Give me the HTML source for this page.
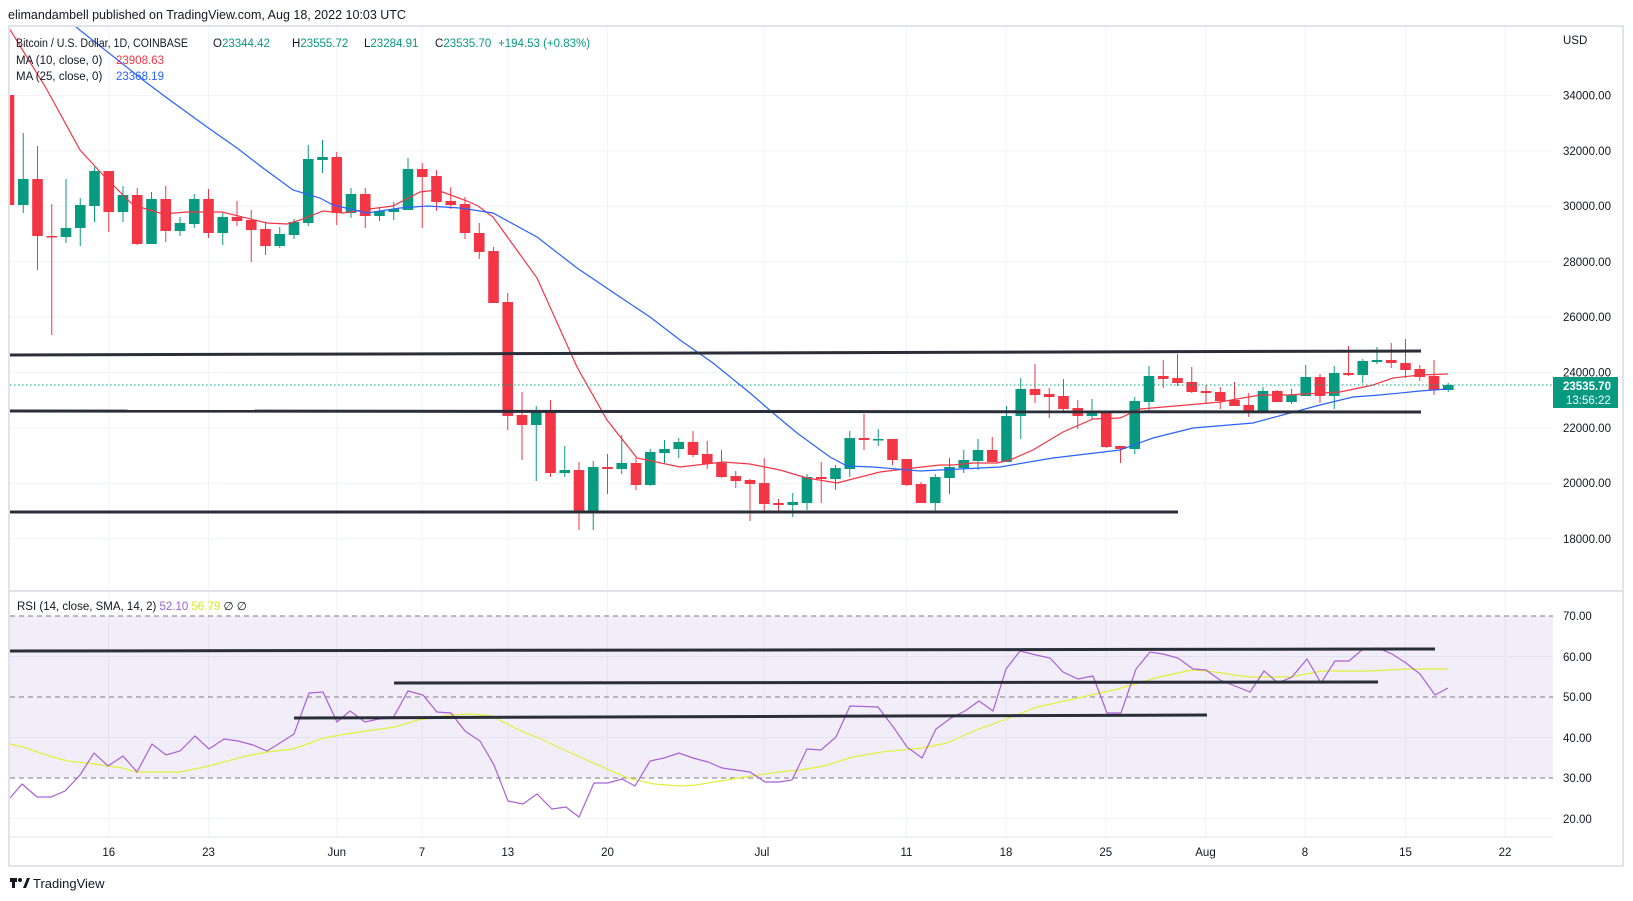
<!DOCTYPE html>
<html><head><meta charset="utf-8"><style>
html,body{margin:0;padding:0;background:#fff;width:1633px;height:901px;overflow:hidden;font-family:"Liberation Sans",sans-serif}
svg{position:absolute;left:0;top:0}
</style></head><body>
<svg id="s" width="1633" height="901" viewBox="0 0 1633 901" xmlns="http://www.w3.org/2000/svg" font-family="Liberation Sans, sans-serif">
<defs>
<clipPath id="cp"><rect x="10" y="27" width="1543" height="563"/></clipPath>
<clipPath id="cr"><rect x="10" y="593" width="1543" height="243"/></clipPath>
</defs>
<text x="8" y="19" font-size="12.5" fill="#131722">elimandambell published on TradingView.com, Aug 18, 2022 10:03 UTC</text>
<rect x="9" y="26" width="1614" height="840" fill="#fff" stroke="#e0e3eb" stroke-width="2"/>
<g id="grid" stroke="#f0f3fa" stroke-width="1"></g>
<rect x="10" y="616" width="1543" height="162" fill="#7e57c2" fill-opacity="0.1"/>
<g stroke="#787b86" stroke-width="1" stroke-dasharray="5,4">
<line x1="10" y1="616" x2="1553" y2="616"/><line x1="10" y1="697" x2="1553" y2="697"/><line x1="10" y1="778" x2="1553" y2="778"/>
</g>
<line x1="9" y1="591" x2="1623" y2="591" stroke="#e0e3eb" stroke-width="2"/>
<line x1="9" y1="837" x2="1553" y2="837" stroke="#e0e3eb" stroke-width="1"/>
<g id="cand" clip-path="url(#cp)"></g>
<g clip-path="url(#cp)" fill="none">
<polyline id="ma10" stroke="#f23645" stroke-width="1.2" points="9,28 46,88 80,150 103,175 133,205 163,214 187,212 222,212 267,223 287,224 300,220 323,211 343,213 377,208 393,206 420,192 437,190 467,201 478,206 493,217 537,278 577,367 607,420 637,458 680,467 723,462 750,464 780,470 807,478 837,483 880,472 913,468 940,465 953,465 973,463 997,463 1010,460 1033,450 1063,432 1093,419 1120,418 1140,409 1187,405 1220,402 1260,395 1287,395 1340,392 1373,385 1393,378 1420,375 1448,374"/>
<polyline stroke="#2962ff" stroke-width="1.2" points="76,27 143,80 167,98 207,127 237,148 263,168 293,190 320,198 333,205 367,213 400,208 427,206 460,208 480,211 493,213 537,237 577,268 620,297 650,317 680,340 713,363 750,393 773,413 797,433 830,457 847,466 873,467 920,471 1000,467 1053,458 1120,450 1153,438 1193,428 1253,423 1320,405 1353,397 1380,395 1420,391 1447,389"/>
<line x1="10" y1="385" x2="1553" y2="385" stroke="#089981" stroke-width="1" stroke-dasharray="1.5,2.5"/>
<g stroke="#2a2e39" stroke-width="3">
<line x1="10" y1="355" x2="1421" y2="351"/>
<line x1="10" y1="411" x2="1421" y2="412"/>
<line x1="10" y1="512" x2="1178" y2="512"/>
</g>
</g>
<g clip-path="url(#cr)" fill="none">
<polyline stroke="#e2f03c" stroke-width="1.2" points="10,744 23,747 52,757 68,761 94,764 123,768 136,772 180,772 209,766 246,756 267,752 293,749 324,738 340,735 366,731 395,727 418,720 450,715 471,714 492,716 523,732 539,738 560,748 591,762 628,778 654,784 680,786 696,785 732,779 758,775 779,772 800,770 824,766 853,757 882,752 922,748 947,743 976,730 1004,720 1037,707 1078,698 1118,689 1159,677 1192,670 1208,671 1249,677 1290,677 1322,671 1371,671 1404,669 1448,669"/>
<polyline stroke="#ab5fd6" stroke-width="1.2" points="10,798 22,784 37,797 51,797 65,791 80,775 94,753 108,766 123,756 137,772 152,744 166,755 180,751 195,736 209,749 224,739 238,741 253,745 267,751 280,743 294,734 309,693 323,692 337,722 350,711 365,722 379,719 393,718 408,691 423,695 437,712 451,713 465,731 480,741 494,765 508,801 523,804 537,794 552,809 566,807 579,817 594,783 608,783 622,779 635,786 650,761 664,758 679,753 693,758 708,762 722,768 736,770 750,772 765,782 779,782 792,780 807,749 821,750 836,737 850,706 878,707 894,728 907,747 922,758 936,729 951,718 965,711 979,701 993,711 1006,669 1020,651 1036,655 1050,658 1063,672 1078,679 1093,676 1107,713 1121,713 1136,669 1150,652 1163,654 1178,658 1193,669 1206,670 1220,680 1235,686 1250,692 1264,671 1278,683 1292,677 1307,659 1321,683 1335,661 1349,661 1363,649 1378,648 1392,654 1406,663 1420,674 1435,695 1448,688"/>
<g stroke="#2a2e39" stroke-width="3">
<line x1="10" y1="651" x2="1435" y2="649"/>
<line x1="394" y1="683" x2="1378" y2="682"/>
<line x1="294" y1="718" x2="1207" y2="715"/>
</g>
</g>
<g font-size="11.5" fill="#131722">
<text x="1563" y="44">USD</text>
<text x="1563" y="99.5">34000.00</text><text x="1563" y="155">32000.00</text><text x="1563" y="210">30000.00</text><text x="1563" y="266">28000.00</text><text x="1563" y="321">26000.00</text><text x="1563" y="376.5">24000.00</text><text x="1563" y="432">22000.00</text><text x="1563" y="487">20000.00</text><text x="1563" y="543">18000.00</text>
<text x="1563" y="620">70.00</text><text x="1563" y="661">60.00</text><text x="1563" y="701">50.00</text><text x="1563" y="742">40.00</text><text x="1563" y="782">30.00</text><text x="1563" y="823">20.00</text>
</g>
<rect x="1553" y="377" width="65" height="31" fill="#089981"/>
<text x="1563" y="390" font-size="11.5" font-weight="bold" fill="#fff">23535.70</text>
<text x="1566" y="404" font-size="11.5" fill="#fff">13:56:22</text>
<g font-size="11.5" fill="#131722" text-anchor="middle" id="dates">
<text x="108.75" y="856">16</text><text x="208.5" y="856">23</text><text x="336.75" y="856">Jun</text><text x="422" y="856">7</text><text x="507.75" y="856">13</text><text x="607.5" y="856">20</text><text x="762" y="856">Jul</text><text x="906.5" y="856">11</text><text x="1006" y="856">18</text><text x="1105.75" y="856">25</text><text x="1205.5" y="856">Aug</text><text x="1305" y="856">8</text><text x="1405.5" y="856">15</text><text x="1505" y="856">22</text>
</g>
<g font-size="11.5" fill="#131722">
<text x="16" y="47" textLength="172" lengthAdjust="spacingAndGlyphs">Bitcoin / U.S. Dollar, 1D, COINBASE</text>
<text x="213" y="47">O<tspan fill="#089981">23344.42</tspan></text>
<text x="292" y="47">H<tspan fill="#089981">23555.72</tspan></text>
<text x="364" y="47">L<tspan fill="#089981">23284.91</tspan></text>
<text x="435" y="47">C<tspan fill="#089981">23535.70</tspan></text>
<text x="498" y="47" fill="#089981">+194.53 (+0.83%)</text>
<text x="16" y="64">MA (10, close, 0)</text><text x="116" y="64" fill="#f23645">23908.63</text>
<text x="16" y="80">MA (25, close, 0)</text><text x="116" y="80" fill="#2962ff">23368.19</text>
<text x="17" y="610">RSI (14, close, SMA, 14, 2) <tspan fill="#9c5fd6">52.10</tspan> <tspan fill="#d4ea1e">56.79</tspan> ∅ ∅</text>
</g>
<g transform="translate(10,876)">
<rect x="0" y="2" width="7" height="4" fill="#131722"/><rect x="2" y="2" width="3" height="10" fill="#131722"/>
<circle cx="10" cy="4" r="2" fill="#131722"/><path d="M13 12 L17 2 L20 2 L16 12Z" fill="#131722"/>
</g>
<text x="33" y="888" font-size="13" fill="#131722">TradingView</text>
</svg>
<script>
var d=[
['r',95,205,95,205],['g',205,179,133,213],['r',179,236,146,270],['r',236,237,204,335],['g',237,228,179,243],['g',228,205,198,246],['g',206,171,167,222],['r',171,212,171,232],['g',212,195,186,222],['r',195,244,188,245],
['g',244,199,192,244],['r',199,231,186,242],['g',231,223,217,236],['g',224,199,194,228],['r',199,233,189,238],['g',233,217,213,245],['r',217,221,201,226],['r',220,230,210,262],['r',229,246,223,255],['g',246,234,227,248],
['g',235,222,219,239],['g',223,159,145,226],['g',160,157,140,173],['r',157,213,152,225],['g',213,194,188,218],['r',194,216,188,228],['g',216,211,208,221],['g',212,209,202,220],['g',210,169,158,210],['r',169,177,163,228],
['r',176,202,170,211],['r',201,205,187,209],['r',204,233,197,239],['r',233,252,223,259],['r',251,303,247,303],['r',302,416,293,430],['r',415,425,392,460],['g',425,412,406,481],['r',412,473,400,477],['g',473,470,446,477],
['r',470,513,462,530],['g',513,467,461,530],['r',467,469,454,494],['g',469,463,435,474],['r',463,485,458,490],['g',485,452,449,486],['g',453,449,440,463],['g',449,442,438,458],['r',442,455,431,457],['r',454,464,441,469],
['r',463,477,450,478],['r',476,481,471,488],['r',480,484,479,521],['r',483,504,458,512],['r',503,505,499,512],['g',505,502,493,517],['g',503,477,474,510],['r',477,479,462,503],['g',479,468,465,490],['g',469,438,431,477],
['r',438,440,414,450],['g',440,439,429,446],['r',439,460,439,465],['r',459,485,459,486],['r',484,503,482,503],['g',503,477,474,513],['g',478,467,458,494],['g',468,460,450,473],['g',461,450,439,470],['r',450,462,437,462],
['g',462,416,406,462],['g',416,389,378,439],['r',389,395,364,403],['r',394,397,388,418],['r',396,409,379,413],['r',408,416,400,429],['g',416,411,399,419],['r',411,447,411,448],['r',446,449,446,463],['g',449,401,397,454],
['g',402,376,366,411],['r',376,379,360,388],['r',378,383,354,386],['r',382,392,367,393],['r',391,393,385,404],['r',392,401,387,409],['r',400,406,382,406],['r',405,412,393,417],['g',411,391,387,411],['r',391,402,390,402],
['g',402,395,389,404],['g',396,377,365,396],['r',377,396,374,403],['g',396,373,366,409],['r',373,375,346,376],['g',375,361,359,383],['g',362,360,347,364],['r',360,363,343,368],['r',363,370,339,378],['r',369,377,365,381],
['r',376,390,360,395],['g',390,385,383,392]];
var g=document.getElementById('cand'),h='';
d.forEach(function(c,i){var x=9+i*14.25,col=c[0]=='r'?'#f23645':'#089981';var t=Math.min(c[1],c[2]),b=Math.max(c[1],c[2]);if(b-t<1.5)b=t+1.5;
h+='<line x1="'+x+'" x2="'+x+'" y1="'+c[3]+'" y2="'+c[4]+'" stroke="'+col+'" stroke-width="1"/>';
h+='<rect x="'+(x-5.3)+'" y="'+t+'" width="10.6" height="'+(b-t)+'" fill="'+col+'"/>';});
g.innerHTML=h;
var gr=document.getElementById('grid'),s='';
[108.75,208.5,336.75,422,507.75,607.5,764,906.5,1006,1105.75,1205.5,1305,1405.5,1505].forEach(function(x){s+='<line x1="'+x+'" x2="'+x+'" y1="27" y2="837"/>';});
for(var k=0;k<9;k++){var y=95.5+k*55.4;s+='<line x1="10" x2="1553" y1="'+y+'" y2="'+y+'"/>';}
[656.5,737.5,818.5].forEach(function(y){s+='<line x1="10" x2="1553" y1="'+y+'" y2="'+y+'"/>';});
gr.innerHTML=s;
</script>
</body></html>
